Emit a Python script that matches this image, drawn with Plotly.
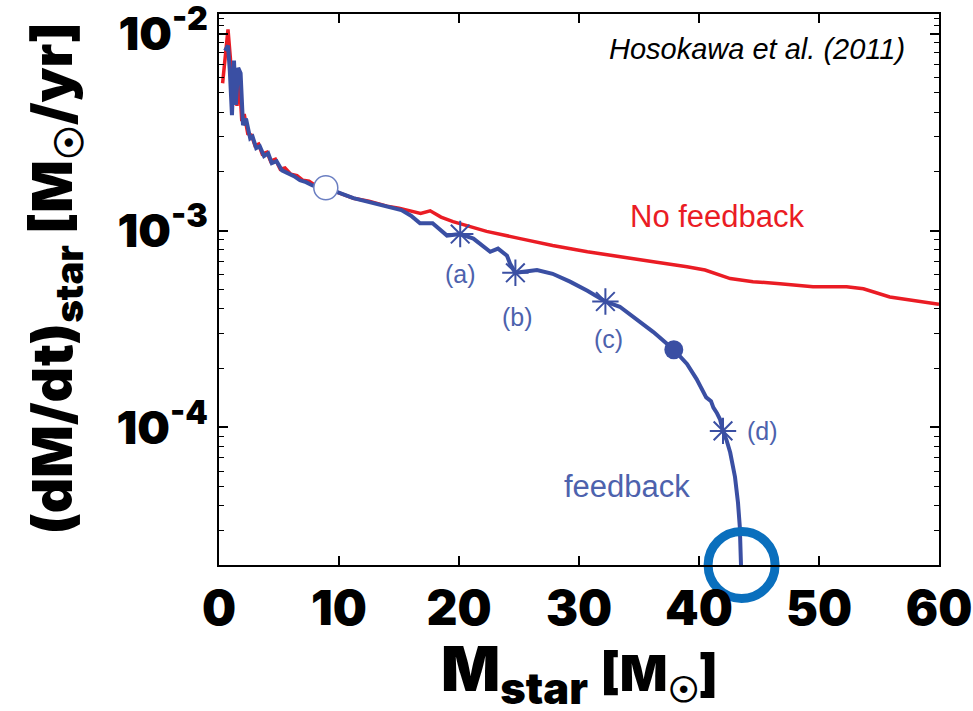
import math
import plotly.graph_objects as go

# Stellar mass [Msun] and accretion rate [Msun/yr] without UV feedback
mass_nofb = [0.3, 0.75, 0.95, 1.1, 1.3, 1.5, 1.7, 1.9, 2.1, 2.4, 2.7, 3.0, 3.3, 3.6, 4.0,
             4.3, 4.7, 5.1, 5.5, 6.0, 6.5, 7.0, 7.5, 8.0, 8.5, 9.0, 9.7, 11.2, 12.5, 14.0,
             15.0, 16.0, 16.8, 17.6, 18.5, 19.5, 22.3, 25.1, 27.8, 30.7, 33.4, 36.2, 39.0,
             40.5, 42.6, 44.5, 46.75, 49.5, 52.3, 53.7, 55.9, 59.8, 60.0]
rate_nofb = [5.6e-3, 1.05e-2, 7.5e-3, 4.6e-3, 6.4e-3, 4.3e-3, 5.8e-3, 3.6e-3, 3.9e-3, 3.1e-3,
             3.05e-3, 2.7e-3, 2.75e-3, 2.45e-3, 2.5e-3, 2.25e-3, 2.3e-3, 2.05e-3, 2.08e-3,
             1.93e-3, 1.9e-3, 1.8e-3, 1.78e-3, 1.7e-3, 1.68e-3, 1.64e-3, 1.58e-3, 1.46e-3,
             1.41e-3, 1.33e-3, 1.30e-3, 1.26e-3, 1.22e-3, 1.26e-3, 1.17e-3, 1.11e-3, 9.9e-4,
             9.1e-4, 8.4e-4, 7.8e-4, 7.4e-4, 6.95e-4, 6.55e-4, 6.3e-4, 5.7e-4, 5.5e-4, 5.37e-4,
             5.18e-4, 5.18e-4, 5.06e-4, 4.6e-4, 4.24e-4, 4.22e-4]

# Same quantities with UV feedback switched on
mass_fb = [0.5, 0.75, 0.9, 1.08, 1.25, 1.4, 1.6, 1.8, 2.0, 2.25, 2.6, 2.8, 3.1, 3.4, 3.75,
           4.1, 4.4, 4.8, 5.25, 5.75, 6.25, 6.75, 7.25, 7.75, 8.25, 8.8, 9.7, 11.2, 12.5,
           14.0, 15.2, 16.0, 16.75, 17.8, 19.0, 20.1, 21.2, 22.6, 23.25, 24.0, 24.25, 24.7,
           25.7, 26.5, 27.8, 29.25, 30.7, 32.2, 33.4, 34.8, 36.2, 37.9, 39.0, 39.8, 40.1,
           40.3, 40.6, 41.0, 41.2, 41.5, 41.75, 42.0, 42.3, 42.6, 43.0, 43.25, 43.4, 43.5]
rate_fb = [8.2e-3, 8.7e-3, 6.5e-3, 3.86e-3, 7.3e-3, 4.35e-3, 6.7e-3, 6.3e-3, 3.43e-3, 3.7e-3,
           2.94e-3, 3.0e-3, 2.62e-3, 2.68e-3, 2.39e-3, 2.47e-3, 2.2e-3, 2.25e-3, 2.02e-3,
           1.95e-3, 1.89e-3, 1.8e-3, 1.76e-3, 1.7e-3, 1.66e-3, 1.64e-3, 1.58e-3, 1.46e-3,
           1.40e-3, 1.32e-3, 1.27e-3, 1.19e-3, 1.09e-3, 1.09e-3, 9.43e-4, 9.6e-4, 9.1e-4,
           7.8e-4, 8.1e-4, 7.45e-4, 6.8e-4, 6.1e-4, 6.25e-4, 6.3e-4, 6.03e-4, 5.5e-4, 4.94e-4,
           4.36e-4, 4.1e-4, 3.56e-4, 3.05e-4, 2.48e-4, 2.1e-4, 1.76e-4, 1.62e-4, 1.56e-4,
           1.42e-4, 1.36e-4, 1.26e-4, 1.18e-4, 1.10e-4, 9.6e-5, 8.6e-5, 7.45e-5, 5.6e-5,
           4.14e-5, 3.13e-5, 2.0e-5]

# Evolutionary stages marked on the feedback track
stage_mass = [20.1, 24.7, 32.2, 42.0]
stage_rate = [9.6e-4, 6.1e-4, 4.36e-4, 9.6e-5]
stage_labels = ["(a)", "(b)", "(c)", "(d)"]

open_mass, open_rate = [8.9], [1.65e-3]
filled_mass, filled_rate = [37.9], [2.48e-4]
final_mass, final_rate = [43.55], [2.0e-5]

x_ticks = [0, 10, 20, 30, 40, 50, 60]
y_ticks = [1e-4, 1e-3, 1e-2]
y_ticktext = ["10<sup>-4</sup>", "10<sup>-3</sup>", "10<sup>-2</sup>"]
y_minor = [m * 10 ** e for e in (-5, -4, -3) for m in range(2, 10)] + [1.1e-2, 1.2e-2]

RED = "#ea1c24"
BLUE = "#3a4fa3"
LABEL_BLUE = "#4d62ad"
RING = "#0a6fbd"
HEAVY = "Inter"
PLAIN = "Liberation Sans, Arial"

fig = go.Figure()
fig.add_trace(go.Scatter(x=mass_nofb, y=rate_nofb, mode="lines",
                         line=dict(color=RED, width=3.5), showlegend=False))
fig.add_trace(go.Scatter(x=mass_fb, y=rate_fb, mode="lines",
                         line=dict(color=BLUE, width=4), showlegend=False))
fig.add_trace(go.Scatter(x=stage_mass, y=stage_rate, mode="markers",
                         marker=dict(symbol="asterisk-open", size=22, color=BLUE,
                                     line=dict(color=BLUE, width=2)),
                         showlegend=False))
fig.add_trace(go.Scatter(x=open_mass, y=open_rate, mode="markers",
                         marker=dict(symbol="circle", size=24, color="white",
                                     line=dict(color="#6b7fc2", width=1.5)),
                         showlegend=False))
fig.add_trace(go.Scatter(x=filled_mass, y=filled_rate, mode="markers",
                         marker=dict(symbol="circle", size=19, color=BLUE),
                         showlegend=False))
fig.add_trace(go.Scatter(x=final_mass, y=final_rate, mode="markers", cliponaxis=False,
                         marker=dict(symbol="circle-open", size=67, color=RING,
                                     line=dict(color=RING, width=9)),
                         showlegend=False))

# Stage labels; annotation y on a log axis is given in log10 units
label_shift = [(0, -40), (2, -44), (3, -37), (39, 0)]
for m, r, t, (dx, dy) in zip(stage_mass, stage_rate, stage_labels, label_shift):
    fig.add_annotation(x=m, y=math.log10(r), xref="x", yref="y", text=t, showarrow=False,
                       xshift=dx, yshift=dy,
                       font=dict(family=PLAIN, size=25, color=LABEL_BLUE))

fig.add_annotation(x=0.693, y=0.633, xref="paper", yref="paper", text="No feedback",
                   showarrow=False, xanchor="center", yanchor="middle",
                   font=dict(family=PLAIN, size=31, color=RED))
fig.add_annotation(x=0.567, y=0.1416, xref="paper", yref="paper", text="feedback",
                   showarrow=False, xanchor="center", yanchor="middle",
                   font=dict(family=PLAIN, size=31, color=LABEL_BLUE))
fig.add_annotation(x=0.747, y=0.9365, xref="paper", yref="paper",
                   text="<i>Hosokawa et al. (2011)</i>", showarrow=False,
                   xanchor="center", yanchor="middle",
                   font=dict(family=PLAIN, size=29, color="black"))

# Axis titles placed as annotations for exact positioning
fig.add_annotation(x=0, y=0.5, xref="paper", yref="paper", textangle=-90,
                   text="(dM/dt)<sub>star</sub> [M<sub>☉</sub>/yr]", showarrow=False,
                   xanchor="center", yanchor="middle", xshift=-164, yshift=11,
                   font=dict(family=HEAVY, size=55, color="black", weight=900))
fig.add_annotation(x=0.5, y=0, xref="paper", yref="paper",
                   text="M<sub>star</sub> <span style='font-size:50px'>[M<sub>☉</sub>]</span>",
                   showarrow=False, xanchor="center", yanchor="middle", yshift=-107,
                   font=dict(family=HEAVY, size=62, color="black", weight=900))

axis_common = dict(showline=True, linecolor="black", linewidth=2, mirror="allticks",
                   ticks="inside", tickcolor="black", tickwidth=1.5, showgrid=False,
                   zeroline=False, automargin=False, ticklabeloverflow="allow")
fig.update_xaxes(range=[0, 60], tickvals=x_ticks, ticklen=9,
                 tickfont=dict(family=HEAVY, size=48, color="black", weight=900),
                 **axis_common)
fig.update_yaxes(type="log", range=[-4.699, -1.9], tickvals=y_ticks, ticktext=y_ticktext,
                 ticklen=9,
                 minor=dict(tickvals=y_minor, ticks="inside", ticklen=5, tickcolor="black",
                            tickwidth=1.2, showgrid=False),
                 tickfont=dict(family=HEAVY, size=46, color="black", weight=900),
                 **axis_common)

fig.update_layout(width=973, height=711, margin=dict(l=219, r=34, t=14, b=146),
                  paper_bgcolor="white", plot_bgcolor="white")

fig.write_html("out.html")
